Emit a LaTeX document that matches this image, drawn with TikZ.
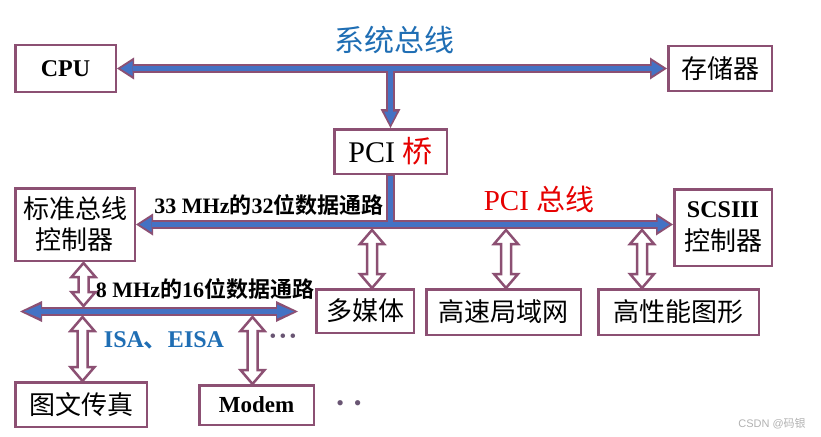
\documentclass[tikz,border=0pt]{standalone}
\usepackage{fontspec}
\setmainfont{Liberation Serif}
\newfontfamily\cjk{Noto Sans CJK SC}[BoldFont={Noto Sans CJK SC Bold}]
\newfontfamily\wmsans{Liberation Sans}
\usetikzlibrary{arrows.meta,calc}
\definecolor{bord}{RGB}{140,80,115}
\definecolor{busblue}{RGB}{68,114,196}
\definecolor{titleblue}{RGB}{31,110,180}
\definecolor{pcired}{RGB}{230,0,0}
\definecolor{dotc}{RGB}{105,85,115}
\tikzset{
  box/.style={draw=bord, line width=2.5pt, fill=white, inner sep=0pt},
  cjkbox/.style={box, font=\cjk\fontsize{26}{31}\selectfont},
  busout/.style={draw=bord, line width=8.5pt},
  busin/.style={draw=busblue, line width=4.5pt},
  hollow/.style={draw=bord, line width=2.5pt, fill=white, line join=miter},
}
\newcommand\hollowV[2]{%
  \draw[hollow] let \p1=#1, \p2=#2 in
  (\x1,\y1) -- ++(12pt,-14pt) -- ++(-7pt,0pt) -- (\x1+5pt,\y2+14pt) -- ++(7pt,0pt)
  -- (\x1,\y2) -- ++(-12pt,14pt) -- ++(7pt,0pt) -- (\x1-5pt,\y1-14pt) -- ++(-7pt,0pt) -- cycle;}
\begin{document}
\begin{tikzpicture}[x=1pt,y=-1pt]
\fill[white] (0,0) rectangle (821,436);
\useasboundingbox (0,0) rectangle (821,436);

% boxes
\node[box, minimum width=100.5pt, minimum height=46.5pt, font=\bfseries\fontsize{24}{26}\selectfont] (cpu) at (65.5,68.5) {CPU};
\node[cjkbox, minimum width=103.5pt, minimum height=44.5pt] (mem) at (720,68.5) {存储器};
\node[box, minimum width=112.5pt, minimum height=44.5pt, font=\fontsize{30}{32}\selectfont] (pci) at (390.5,151.5) {PCI {\cjk\color{pcired}桥}};
\node[cjkbox, minimum width=119.5pt, minimum height=72.5pt, align=center] (std) at (75,224.5) {标准总线\\控制器};
\node[box, minimum width=97.5pt, minimum height=76.5pt, align=center, font=\fontsize{26}{31}\selectfont] (scsi) at (723,227.5) {{\bfseries\fontsize{24}{27}\selectfont SCSIII}\\[2pt]{\cjk 控制器}};
\node[cjkbox, minimum width=97.5pt, minimum height=43.5pt] (mm) at (365,311) {多媒体};
\node[cjkbox, minimum width=154.5pt, minimum height=45.5pt] (lan) at (503.5,312) {高速局域网};
\node[cjkbox, minimum width=160.5pt, minimum height=45.5pt] (gfx) at (678.5,312) {高性能图形};
\node[cjkbox, minimum width=131.5pt, minimum height=44.5pt] (fax) at (81,404.5) {图文传真};
\node[box, minimum width=114.5pt, minimum height=39.5pt, font=\bfseries\fontsize{23}{26}\selectfont] (modem) at (256.5,405) {Modem};

% labels
\node[text=titleblue, font=\cjk\fontsize{30}{32}\selectfont] (systitle) at (394,40) {系统总线};
\node[text=pcired, font=\fontsize{29}{31}\selectfont] (pcititle) at (539,199) {PCI {\cjk 总线}};
\node[font=\bfseries\fontsize{22}{24}\selectfont, inner sep=0pt] (lab32) at (269,205) {33 MHz{\cjk 的}32{\cjk 位数据通路}};
\node[font=\bfseries\fontsize{22}{24}\selectfont, inner sep=0pt] (lab16) at (205,289) {8 MHz{\cjk 的}16{\cjk 位数据通路}};
\node[text=titleblue, font=\bfseries\fontsize{24}{26}\selectfont] (isalab) at (164,340) {ISA{\cjk 、}EISA};
\node[text=dotc, font=\fontsize{19}{20}\selectfont, inner sep=0pt] (dots1) at (283,338) {•\hspace{3.3pt}•\hspace{3.3pt}•};
\node[text=dotc, font=\fontsize{22}{24}\selectfont, inner sep=0pt] (dots2) at (349,406) {•\hspace{10pt}•};
\node[text=gray!60, font=\wmsans\fontsize{11}{12}\selectfont] (wm) at (772,424) {CSDN @{\cjk 码银}};

% bus coordinates
\coordinate (isaL) at (20,311.5);
\coordinate (isaR) at (298,311.5);
\coordinate (sysj) at (pci.north |- cpu.east);
\coordinate (pcij) at (pci.south |- std.east);

% outer pass
\draw[busout, {Triangle[length=17pt,width=22pt,line width=0pt]}-{Triangle[length=17pt,width=22pt,line width=0pt]}] (cpu.east) -- (mem.west);
\draw[busout, -{Triangle[length=19pt,width=20pt,line width=0pt]}] (sysj) -- (pci.north);
\draw[busout] (pci.south) -- (pcij);
\draw[busout, {Triangle[length=17pt,width=22pt,line width=0pt]}-{Triangle[length=17pt,width=22pt,line width=0pt]}] (std.east) -- (scsi.west |- std.east);
\draw[busout, {Triangle[length=22pt,width=21pt,line width=0pt]}-{Triangle[length=22pt,width=21pt,line width=0pt]}] (isaL) -- (isaR);

% inner pass
\draw[busin, shorten <=3.5pt, shorten >=3.5pt, {Triangle[length=12pt,width=15pt,line width=0pt]}-{Triangle[length=12pt,width=15pt,line width=0pt]}] (cpu.east) -- (mem.west);
\draw[busin, shorten >=3.5pt, -{Triangle[length=13pt,width=13pt,line width=0pt]}] (sysj) -- (pci.north);
\draw[busin] ($(pci.south)+(0,1.2)$) -- (pcij);
\draw[busin, shorten <=3.5pt, shorten >=3.5pt, {Triangle[length=12pt,width=15pt,line width=0pt]}-{Triangle[length=12pt,width=15pt,line width=0pt]}] (std.east) -- (scsi.west |- std.east);
\draw[busin, shorten <=4pt, shorten >=4pt, {Triangle[length=17pt,width=14pt,line width=0pt]}-{Triangle[length=17pt,width=14pt,line width=0pt]}] (isaL) -- (isaR);

% hollow double arrows
\coordinate (h1b) at ($(mm.north)+(7,0)$);
\coordinate (h1t) at ($(h1b |- pcij)+(0,5.5)$);
\hollowV{(h1t)}{(h1b)}
\coordinate (h2b) at ($(lan.north)+(2.5,0)$);
\coordinate (h2t) at ($(h2b |- pcij)+(0,5.5)$);
\hollowV{(h2t)}{(h2b)}
\coordinate (h3b) at ($(gfx.north)+(-36.5,0)$);
\coordinate (h3t) at ($(h3b |- pcij)+(0,5.5)$);
\hollowV{(h3t)}{(h3b)}
\coordinate (h4t) at ($(std.south)+(8.5,1)$);
\coordinate (h4b) at ($(h4t |- isaL)+(0,-5.5)$);
\hollowV{(h4t)}{(h4b)}
\coordinate (h5b) at ($(fax.north)+(1.5,0)$);
\coordinate (h5t) at ($(h5b |- isaL)+(0,5.5)$);
\hollowV{(h5t)}{(h5b)}
\coordinate (h6b) at ($(modem.north)+(-4,0)$);
\coordinate (h6t) at ($(h6b |- isaL)+(0,5.5)$);
\hollowV{(h6t)}{(h6b)}
\end{tikzpicture}
\end{document}
